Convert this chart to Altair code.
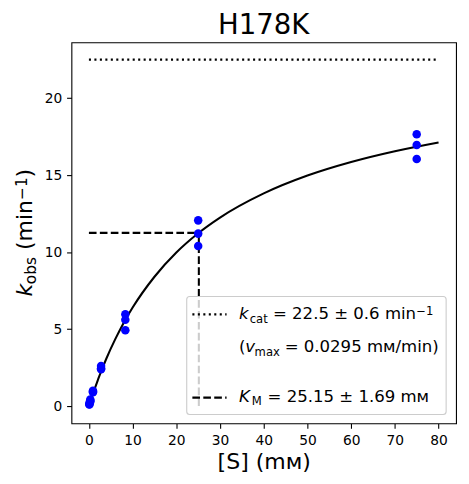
import altair as alt
import pandas as pd

FONT = "DejaVu Sans"

# ---- data ----
substrate_mM = [0.103, 0.103, 0.103,
                0.309, 0.309, 0.309,
                0.926, 0.926, 0.926,
                2.78, 2.78, 2.78,
                8.33, 8.33, 8.33,
                25, 25, 25,
                75, 75, 75]
kobs = [0.18, 0.12, 0.10,
        0.42, 0.35, 0.30,
        1.00, 0.95, 0.90,
        2.60, 2.45, 2.40,
        5.96, 5.60, 4.93,
        12.06, 11.20, 10.40,
        17.65, 16.95, 16.05]

curve_S = [0, 0.5, 1, 2, 3, 4, 6, 8, 10, 15, 20, 25, 30, 40, 50, 60, 70, 80]
curve_k = [0, 0.44, 0.86, 1.66, 2.39, 3.09, 4.33, 5.43, 6.40, 8.40, 9.97,
           11.22, 12.24, 13.81, 14.97, 15.85, 16.55, 17.12]

kcat = 22.5
km = 25.15
half_kcat = 11.25
s_start = 0
s_end = 80

x_ticks = [0, 10, 20, 30, 40, 50, 60, 70, 80]
y_ticks = [0, 5, 10, 15, 20]

# ---- layout ----
PL, PT = 64, 32.5          # padding -> plot area at page (72, 40.5)
OX, OY = 8 + PL, 8 + PT
W, H = 388, 384.5
LW = 2.08

xs = alt.Scale(domain=[-4, 84], nice=False, zero=False)
ys = alt.Scale(domain=[-1.125, 23.625], nice=False, zero=False)

pts = pd.DataFrame({"S": substrate_mM, "k": kobs})
crv = pd.DataFrame({"S": curve_S, "k": curve_k})
one = pd.DataFrame({"a": [0]})

xaxis = alt.Axis(values=x_ticks, title="[S] (mм)", titleFontSize=22.2,
                 titleFont=FONT, titleFontWeight="normal", titleColor="black",
                 titleBaseline="alphabetic", titleY=45.5,
                 labelFont=FONT, labelFontSize=13.9, labelColor="black",
                 tickColor="black", tickSize=4.9, tickWidth=1.1,
                 labelPadding=4.9, domain=False, grid=False)
yaxis = alt.Axis(values=y_ticks, title=None,
                 labelFont=FONT, labelFontSize=13.9, labelColor="black",
                 tickColor="black", tickSize=4.9, tickWidth=1.1,
                 labelPadding=4.9, domain=False, grid=False)

points = alt.Chart(pts).mark_circle(size=74, color="#0000ff", opacity=1).encode(
    x=alt.X("S:Q", scale=xs, axis=xaxis),
    y=alt.Y("k:Q", scale=ys, axis=yaxis),
)
curve = alt.Chart(crv).mark_line(color="black", strokeWidth=LW, interpolate="monotone").encode(
    x=alt.X("S:Q", scale=xs), y=alt.Y("k:Q", scale=ys)
)

kcat_df = pd.DataFrame({"x": [s_start], "x2": [s_end], "y": [kcat]})
kcat_line = alt.Chart(kcat_df).mark_rule(color="black", strokeWidth=LW,
                                         strokeDash=[2.08, 3.44]).encode(
    x=alt.X("x:Q", scale=xs), x2="x2:Q", y=alt.Y("y:Q", scale=ys))

kmh_df = pd.DataFrame({"x": [s_start], "x2": [km], "y": [half_kcat]})
km_h = alt.Chart(kmh_df).mark_rule(color="black", strokeWidth=LW,
                                   strokeDash=[7.7, 3.33]).encode(
    x=alt.X("x:Q", scale=xs), x2="x2:Q", y=alt.Y("y:Q", scale=ys))
kmv_df = pd.DataFrame({"x": [km], "y": [0], "y2": [half_kcat]})
km_v = alt.Chart(kmv_df).mark_rule(color="black", strokeWidth=LW,
                                   strokeDash=[7.7, 3.33]).encode(
    x=alt.X("x:Q", scale=xs), y=alt.Y("y:Q", scale=ys), y2="y2:Q")


def txt(text, x, y, size, style="normal", angle=0, align="left"):
    return alt.Chart(one).mark_text(
        text=text, font=FONT, fontSize=size, fontStyle=style, angle=angle,
        align=align, baseline="alphabetic", color="black"
    ).encode(x=alt.value(x - OX), y=alt.value(y - OY))


def hline(x1, x2, y, dash):
    return alt.Chart(one).mark_rule(color="black", strokeWidth=LW, strokeDash=dash).encode(
        x=alt.value(x1 - OX), x2=alt.value(x2 - OX), y=alt.value(y - OY))


# legend
FS, SS = 16.7, 11.7
legend_box = alt.Chart(one).mark_rect(
    fill="white", fillOpacity=0.8, stroke="#cccccc", strokeWidth=1.1, cornerRadius=3
).encode(x=alt.value(188.3 - OX), x2=alt.value(450 - OX),
         y=alt.value(297 - OY), y2=alt.value(416 - OY))

legend = [
    legend_box,
    hline(194, 228.5, 315, [2.08, 3.44]),
    hline(194, 228.5, 399, [7.7, 3.33]),
    txt("k", 241, 320, FS, "italic"),
    txt("cat", 251.8, 324, SS),
    txt("= 22.5 ± 0.6 min", 275.3, 320, FS),
    txt("−1", 419.8, 315.5, SS),
    txt("(", 241, 353.3, FS),
    txt("v", 247.4, 353.3, FS, "italic"),
    txt("max", 256.8, 356.8, SS),
    txt("= 0.0295 mм/min)", 287.1, 353.3, FS),
    txt("K", 241, 403, FS, "italic"),
    txt("M", 254.0, 406.5, SS),
    txt("= 25.15 ± 1.69 mм", 269.8, 403, FS),
]

# y-axis title, built from pieces (rotated)
YF, YS = 22.2, 15.5
ylab = [
    txt("k", 32, 297, YF, "italic", 270),
    txt("obs", 36.5, 284.6, YS, "normal", 270),
    txt("(min", 32, 250.1, YF, "normal", 270),
    txt("−1", 27, 199.6, YS, "normal", 270),
    txt(")", 32, 176.8, YF, "normal", 270),
]

title = txt("H178K", 266, 31.7, 27.8, "normal", 0, "center")

chart = alt.layer(
    kcat_line, km_h, km_v, curve, points, *legend, *ylab, title
).properties(
    width=W, height=H,
    autosize=alt.AutoSizeParams(type="none"),
    padding={"left": PL, "top": PT, "right": 5, "bottom": 55},
).configure_view(stroke="black", strokeWidth=1.1)

chart.save("out.html", embed_options={"renderer": "svg", "actions": False})
